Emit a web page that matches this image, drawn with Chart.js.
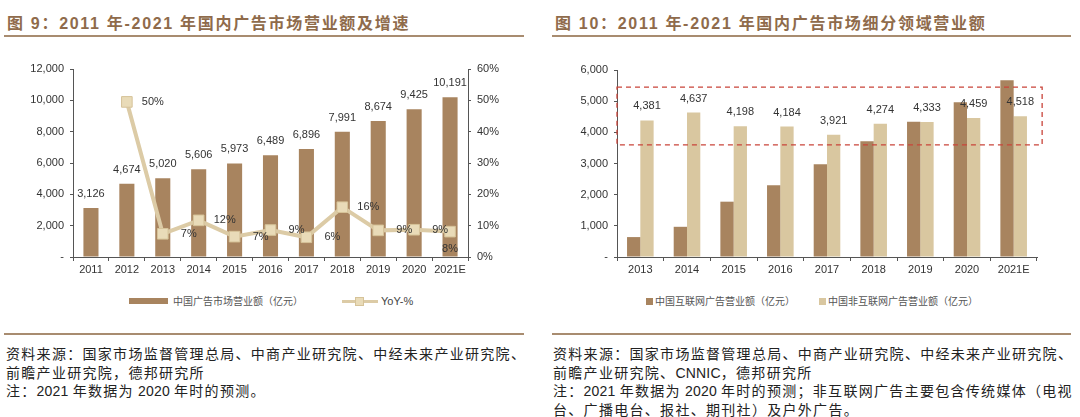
<!DOCTYPE html>
<html><head><meta charset="utf-8">
<script src="https://cdn.jsdelivr.net/npm/chart.js@4"></script>
<style>
body{margin:0;width:1080px;height:417px;background:#fff;position:relative;overflow:hidden;font-family:"Liberation Sans","Noto Sans CJK SC",sans-serif;}
.title{position:absolute;top:10px;font-size:16px;font-weight:bold;color:#8f6b4b;letter-spacing:1.7px;white-space:nowrap;}
.rule{position:absolute;height:2px;background:#a88c70;}
.note{position:absolute;top:345px;font-size:14px;line-height:18.6px;color:#222;letter-spacing:1.3px;white-space:nowrap;}
.note .d{letter-spacing:0.2px;}
canvas{position:absolute;top:55px;}
.lg{position:absolute;font-size:10px;line-height:14px;color:#555;white-space:nowrap;font-family:"Noto Sans CJK SC",sans-serif;}
.sw{position:absolute;}
</style></head>
<body>
<div class="title" style="left:7px">图 9：2011 年-2021 年国内广告市场营业额及增速</div>
<div class="title" style="left:555px">图 10：2011 年-2021 年国内广告市场细分领域营业额</div>
<div class="rule" style="left:4px;width:520px;top:35px"></div>
<div class="rule" style="left:552px;width:519px;top:35px"></div>

<canvas id="c1" width="520" height="225" style="left:0px"></canvas>
<canvas id="c2" width="520" height="225" style="left:540px"></canvas>

<!-- left legend -->
<div class="sw" style="left:129px;top:298px;width:39px;height:6px;background:#a8845f"></div>
<div class="lg" style="left:173px;top:294px">中国广告市场营业额（亿元）</div>
<div class="sw" style="left:342px;top:300px;width:36px;height:3px;background:#dccba6"></div>
<div class="sw" style="left:355px;top:297px;width:9px;height:9px;background:#e9dbb8;border:1px solid #d6c399;box-sizing:border-box"></div>
<div class="lg" style="left:381px;top:294px;font-family:'Liberation Sans',sans-serif;font-size:11px;color:#444">YoY-%</div>

<!-- right legend -->
<div class="sw" style="left:646px;top:298px;width:7px;height:7px;background:#a8845f"></div>
<div class="lg" style="left:655px;top:294px">中国互联网广告营业额（亿元）</div>
<div class="sw" style="left:819px;top:298px;width:7px;height:7px;background:#d9c7a0"></div>
<div class="lg" style="left:828px;top:294px">中国非互联网广告营业额（亿元）</div>

<div class="rule" style="left:4px;width:520px;top:333px"></div>
<div class="rule" style="left:552px;width:519px;top:333px"></div>

<div class="note" style="left:6px">资料来源：国家市场监督管理总局、中商产业研究院、中经未来产业研究院、<br>前瞻产业研究院，德邦研究所<br>注：<span class="d">2021 </span>年数据为<span class="d"> 2020 </span>年时的预测。</div>
<div class="note" style="left:553px">资料来源：国家市场监督管理总局、中商产业研究院、中经未来产业研究院、<br>前瞻产业研究院、<span class="d">CNNIC</span>，德邦研究所<br>注：<span class="d">2021 </span>年数据为<span class="d"> 2020 </span>年时的预测；非互联网广告主要包含传统媒体（电视<br>台、广播电台、报社、期刊社）及户外广告。</div>

<script>
// ---- data ----
const years1 = ['2011','2012','2013','2014','2015','2016','2017','2018','2019','2020','2021E'];
const revenue = [3126,4674,5020,5606,5973,6489,6896,7991,8674,9425,10191];
const yoy = [null,49.5,7.4,11.7,6.5,8.6,6.3,15.9,8.5,8.7,8.1];
const revenueTicks = {min:0, max:12000, step:2000};
const yoyTicks = {min:0, max:60, step:10};

const years2 = ['2013','2014','2015','2016','2017','2018','2019','2020','2021E'];
const internetAds = [639,969,1775,2305,2975,3717,4341,4966,5673];
const nonInternetAds = [4381,4637,4198,4184,3921,4274,4333,4459,4518];
const amountTicks = {min:0, max:6000, step:1000};
const highlightRange = [3600,5450];

const BROWN = '#a8845f', LIGHT = '#d9c7a0', LINE = '#dccba6';
const fmt = v => v === 0 ? '-' : v.toLocaleString('en-US');

Chart.defaults.font.family = '"Liberation Sans", Arial, sans-serif';
Chart.defaults.font.size = 11;
Chart.defaults.color = '#333';

const barLabels = {
  id:'barLabels',
  afterDatasetsDraw(chart, args, opts){
    const ctx = chart.ctx; ctx.save();
    ctx.font = '11px "Liberation Sans", Arial'; ctx.fillStyle = '#333';
    ctx.textAlign = 'center'; ctx.textBaseline = 'middle';
    (opts.datasets || []).forEach(di => {
      const ds = chart.data.datasets[di];
      chart.getDatasetMeta(di).data.forEach((el,i) => {
        const v = ds.data[i]; if (v == null) return;
        ctx.fillText(v.toLocaleString('en-US'), el.x, el.y - 14);
      });
    });
    ctx.restore();
  }
};
const lineLabels = {
  id:'lineLabels',
  afterDatasetsDraw(chart, args, opts){
    if (opts.dataset == null) return;
    const ctx = chart.ctx; ctx.save();
    ctx.font = '11px "Liberation Sans", Arial'; ctx.fillStyle = '#333';
    ctx.textAlign = 'center'; ctx.textBaseline = 'middle';
    const ds = chart.data.datasets[opts.dataset];
    const pts = chart.getDatasetMeta(opts.dataset).data;
    pts.forEach((el,i) => {
      const v = ds.data[i]; if (v == null) return;
      const txt = Math.round(v) + '%';
      if (i === pts.length - 1) ctx.fillText(txt, el.x, el.y + 17);
      else ctx.fillText(txt, el.x + 26, el.y);
    });
    ctx.restore();
  }
};
const boxPlugin = {
  id:'box',
  afterDatasetsDraw(chart, args, opts){
    if (!opts.range) return;
    const x = chart.scales.x, y = chart.scales.y, ctx = chart.ctx;
    const x0 = x.getPixelForValue(-0.5), x1 = x.getPixelForValue(chart.data.labels.length - 1 + 0.61);
    const y0 = y.getPixelForValue(opts.range[1]), y1 = y.getPixelForValue(opts.range[0]);
    ctx.save(); ctx.strokeStyle = '#c9443a'; ctx.lineWidth = 1.3; ctx.setLineDash([5,4]);
    ctx.strokeRect(x0, y0, x1 - x0, y1 - y0); ctx.restore();
  }
};

const axisGrid = {drawOnChartArea:false, drawTicks:true, tickLength:4, color:'#555'};

new Chart(document.getElementById('c1'), {
  data:{labels:years1, datasets:[
    {type:'bar', label:'中国广告市场营业额（亿元）', data:revenue, backgroundColor:BROWN, yAxisID:'y', order:2, barPercentage:0.42, categoryPercentage:1},
    {type:'line', label:'YoY-%', data:yoy, yAxisID:'y1', order:1, borderColor:LINE, borderWidth:4, pointStyle:'rect', pointRadius:7.5, pointBackgroundColor:'#e9dbb8', pointBorderColor:'#d6c399', pointBorderWidth:1, tension:0}
  ]},
  options:{
    responsive:false, animation:false, events:[],
    layout:{padding:{top:14, left:0, right:0, bottom:0}},
    plugins:{legend:{display:false}, tooltip:{enabled:false}, barLabels:{datasets:[0]}, lineLabels:{dataset:1}},
    scales:{
      x:{grid:{...axisGrid, offset:true}, border:{color:'#555'}, ticks:{padding:2, maxRotation:0, autoSkip:false}, afterFit(s){s.height=23;}},
      y:{position:'left', min:revenueTicks.min, max:revenueTicks.max, ticks:{stepSize:revenueTicks.step, padding:6, callback:fmt}, grid:{...axisGrid, tickLength:3}, border:{color:'#555'}, afterFit(s){s.width=73;}},
      y1:{position:'right', min:yoyTicks.min, max:yoyTicks.max, ticks:{stepSize:yoyTicks.step, padding:6, callback:v=>v+'%'}, grid:{...axisGrid, tickLength:3}, border:{color:'#555'}, afterFit(s){s.width=52;}}
    }
  },
  plugins:[barLabels, lineLabels]
});

new Chart(document.getElementById('c2'), {
  type:'bar',
  data:{labels:years2, datasets:[
    {label:'中国互联网广告营业额（亿元）', data:internetAds, backgroundColor:BROWN, barPercentage:1, categoryPercentage:0.57},
    {label:'中国非互联网广告营业额（亿元）', data:nonInternetAds, backgroundColor:LIGHT, barPercentage:1, categoryPercentage:0.57}
  ]},
  options:{
    responsive:false, animation:false, events:[],
    layout:{padding:{top:15, left:0, right:23, bottom:0}},
    plugins:{legend:{display:false}, tooltip:{enabled:false}, barLabels:{datasets:[1]}, box:{range:highlightRange}},
    scales:{
      x:{grid:{...axisGrid, offset:true}, border:{color:'#555'}, ticks:{padding:2, maxRotation:0, autoSkip:false}, afterFit(s){s.height=23;}},
      y:{min:amountTicks.min, max:amountTicks.max, ticks:{stepSize:amountTicks.step, padding:6, callback:fmt}, grid:{...axisGrid, tickLength:3}, border:{color:'#555'}, afterFit(s){s.width=77;}}
    }
  },
  plugins:[barLabels, boxPlugin]
});
</script>
</body></html>
